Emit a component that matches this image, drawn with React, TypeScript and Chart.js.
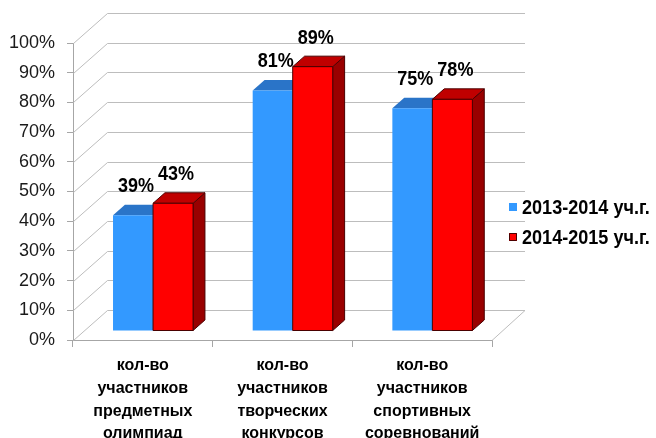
import React, { useEffect, useRef } from "react";
import { Chart, registerables } from "chart.js";

Chart.register(...registerables);

const categories: string[][] = [
  ["кол-во", "участников", "предметных", "олимпиад"],
  ["кол-во", "участников", "творческих", "конкурсов"],
  ["кол-во", "участников", "спортивных", "соревнований"],
];
const seriesNames = ["2013-2014 уч.г.", "2014-2015 уч.г."];
const values2013 = [0.39, 0.81, 0.75];
const values2014 = [0.43, 0.89, 0.78];
const yTickLabels = ["0%", "10%", "20%", "30%", "40%", "50%", "60%", "70%", "80%", "90%", "100%"];

const FONT = "'Liberation Sans', Arial, sans-serif";
const WALL_DX = 34;
const WALL_DY = -30;
const BAR_START = 0.3;
const BAR_DEPTH = 0.35;

const palettes = [
  { front: "#3399FF", top: "#2A74C8", side: "#1F5A9E", stroke: null as string | null },
  { front: "#FF0000", top: "#C00000", side: "#990000", stroke: "#4A0000" },
];

function squeezedText(ctx: any, text: string, x: number, y: number, sx: number) {
  ctx.save();
  ctx.translate(x, y);
  ctx.scale(sx, 1);
  ctx.fillText(text, 0, 0);
  ctx.restore();
}

const threeD = {
  id: "threeD",
  beforeDatasetsDraw(chart: any) {
    const { ctx, chartArea: a, scales } = chart;
    const y = scales.y;
    ctx.save();
    ctx.strokeStyle = "#BDBDBD";
    ctx.lineWidth = 1;
    y.ticks.forEach((t: any) => {
      const py = Math.round(y.getPixelForValue(t.value)) + 0.5;
      ctx.beginPath();
      ctx.moveTo(a.left + 0.5, py);
      ctx.lineTo(a.left + WALL_DX + 0.5, py + WALL_DY);
      ctx.lineTo(a.right + WALL_DX - 1, py + WALL_DY);
      ctx.stroke();
    });
    const p0 = Math.round(y.getPixelForValue(0)) + 0.5;
    ctx.beginPath();
    ctx.moveTo(a.right, p0);
    ctx.lineTo(a.right + WALL_DX - 1, p0 + WALL_DY);
    ctx.stroke();

    const ox = WALL_DX * BAR_START;
    const oy = WALL_DY * BAR_START;
    const dx = WALL_DX * BAR_DEPTH;
    const dy = WALL_DY * BAR_DEPTH;
    const n = chart.data.labels.length;
    const labels: any[] = [];
    for (let i = 0; i < n; i++) {
      chart.data.datasets.forEach((ds: any, di: number) => {
        const meta = chart.getDatasetMeta(di);
        const el = meta.data[i];
        const pal = palettes[di];
        const L = el.x - el.width / 2 + ox;
        const R = el.x + el.width / 2 + ox;
        const T = el.y + oy;
        const B = el.base + oy;
        ctx.lineWidth = 1;
        ctx.lineJoin = "round";
        ctx.beginPath();
        ctx.moveTo(R, T);
        ctx.lineTo(R + dx, T + dy);
        ctx.lineTo(R + dx, B + dy);
        ctx.lineTo(R, B);
        ctx.closePath();
        ctx.fillStyle = pal.side;
        ctx.fill();
        if (pal.stroke) { ctx.strokeStyle = pal.stroke; ctx.stroke(); }
        ctx.beginPath();
        ctx.moveTo(L, T);
        ctx.lineTo(R, T);
        ctx.lineTo(R + dx, T + dy);
        ctx.lineTo(L + dx, T + dy);
        ctx.closePath();
        ctx.fillStyle = pal.top;
        ctx.fill();
        if (pal.stroke) { ctx.strokeStyle = pal.stroke; ctx.stroke(); }
        ctx.beginPath();
        ctx.rect(L, T, R - L, B - T);
        ctx.fillStyle = pal.front;
        ctx.fill();
        if (pal.stroke) { ctx.strokeStyle = pal.stroke; ctx.stroke(); }
        labels.push({ x: (L + R) / 2 + 3, y: T - 23, text: Math.round(ds.data[i] * 100) + "%" });
      });
    }
    ctx.fillStyle = "#000";
    ctx.font = `bold 20px ${FONT}`;
    ctx.textAlign = "center";
    ctx.textBaseline = "alphabetic";
    labels.forEach((l) => squeezedText(ctx, l.text, l.x, l.y, 0.9));

    const lx = a.right + 17;
    const ly0 = 207;
    chart.data.datasets.forEach((ds: any, di: number) => {
      const pal = palettes[di];
      const cy = ly0 + di * 30;
      ctx.fillStyle = pal.front;
      ctx.fillRect(lx, cy - 4, 8, 8);
      if (pal.stroke) {
        ctx.strokeStyle = pal.stroke;
        ctx.strokeRect(lx + 0.5, cy - 3.5, 7, 7);
      }
      ctx.fillStyle = "#000";
      ctx.font = `bold 21px ${FONT}`;
      ctx.textAlign = "left";
      ctx.textBaseline = "middle";
      squeezedText(ctx, ds.label, lx + 13, cy + 1, 0.86);
    });
    ctx.restore();
    return false;
  },
};

export default function App() {
  const ref = useRef<HTMLCanvasElement | null>(null);
  useEffect(() => {
    document.body.style.margin = "0";
    const canvas = ref.current!;
    const chart = new Chart(canvas, {
      type: "bar",
      data: {
        labels: categories,
        datasets: [
          { label: seriesNames[0], data: values2013, backgroundColor: palettes[0].front },
          { label: seriesNames[1], data: values2014, backgroundColor: palettes[1].front },
        ],
      },
      options: {
        responsive: false,
        animation: false,
        devicePixelRatio: 1,
        layout: { padding: { top: 43, right: 164, left: 0, bottom: 0 } },
        datasets: { bar: { categoryPercentage: 0.573, barPercentage: 1 } },
        plugins: { legend: { display: false }, tooltip: { enabled: false } },
        scales: {
          x: {
            offset: true,
            grid: { display: true, drawOnChartArea: false, drawTicks: true, tickLength: 7, offset: true, color: "#A6A6A6" },
            border: { display: true, color: "#A6A6A6" },
            ticks: {
              color: "#000",
              font: { family: FONT, size: 16, weight: "bold", lineHeight: 1.43 },
              padding: 7,
              maxRotation: 0,
              autoSkip: false,
            },
            afterFit: (s: any) => { s.height = 98; },
          },
          y: {
            min: 0,
            max: 1,
            grid: { display: true, drawOnChartArea: false, drawTicks: true, tickLength: 6, color: "#A6A6A6" },
            border: { display: true, color: "#A6A6A6" },
            ticks: {
              stepSize: 0.1,
              color: "#1A1A1A",
              font: { family: FONT, size: 18 },
              padding: 12,
              callback: (_v: any, i: number) => yTickLabels[i],
            },
            afterFit: (s: any) => { s.width = 73; },
          },
        },
      },
      plugins: [threeD],
    } as any);
    return () => chart.destroy();
  }, []);
  return (
    <div style={{ width: 656, height: 438, background: "#fff" }}>
      <canvas ref={ref} width={656} height={438} style={{ display: "block" }} />
    </div>
  );
}
